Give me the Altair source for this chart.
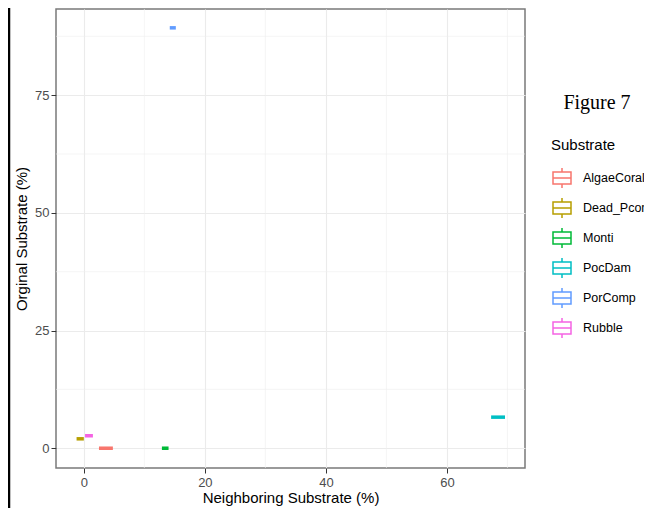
import altair as alt
import pandas as pd

substrates = ["AlgaeCoral", "Dead_Pcomp", "Monti", "PocDam", "PorComp", "Rubble"]
neighbor_lo = [2.5, -1.2, 12.9, 67.3, 14.2, 0.2]
neighbor_hi = [4.8, 0.0, 14.0, 69.6, 15.2, 1.5]
original = [0.0, 2.0, 0.0, 6.6, 89.3, 2.65]
colors = ["#F8766D", "#B79F00", "#00BA38", "#00BFC4", "#619CFF", "#F564E3"]

x_major = [0, 20, 40, 60]
x_minor = [10, 30, 50, 70]
y_major = [0, 25, 50, 75]
y_minor = [12.5, 37.5, 62.5, 87.5]

df = pd.DataFrame({"Substrate": substrates, "lo": neighbor_lo, "hi": neighbor_hi, "y": original})

xs = alt.Scale(domain=[-4.6, 72.9], nice=False, zero=False)
ys = alt.Scale(domain=[-4.2, 93.3], nice=False, zero=False)

FONT = "Liberation Sans"

xaxis = alt.Axis(values=x_major, grid=True, gridColor="#EBEBEB", gridWidth=1.1, domain=False,
                 tickColor="#333333", tickSize=5, labelColor="#4D4D4D", labelFontSize=13,
                 labelPadding=3, labelFont=FONT, title="Neighboring Substrate (%)",
                 titleFont=FONT, titleFontSize=15, titleFontWeight="normal", titleColor="black",
                 titlePadding=1)
yaxis = alt.Axis(values=y_major, grid=True, gridColor="#EBEBEB", gridWidth=1.1, domain=False,
                 tickColor="#333333", tickSize=5, labelColor="#4D4D4D", labelFontSize=13,
                 labelPadding=2, labelFont=FONT, title="Orginal Substrate (%)",
                 titleFont=FONT, titleFontSize=15, titleFontWeight="normal", titleColor="black",
                 titlePadding=5)

minor_x = alt.Chart(pd.DataFrame({"v": x_minor})).mark_rule(color="#EFEFEF", strokeWidth=0.6).encode(
    x=alt.X("v:Q", scale=xs, axis=xaxis))
minor_y = alt.Chart(pd.DataFrame({"v": y_minor})).mark_rule(color="#EFEFEF", strokeWidth=0.6).encode(
    y=alt.Y("v:Q", scale=ys, axis=yaxis))

box_symbol = "M-0.9,-0.6H0.9V0.6H-0.9Z M-0.9,0H0.9 M0,-0.6V-1 M0,0.6V1"

boxes = alt.Chart(df).mark_rule(strokeWidth=3.5, strokeCap="butt").encode(
    x=alt.X("lo:Q", scale=xs, axis=xaxis),
    x2="hi:Q",
    y=alt.Y("y:Q", scale=ys, axis=yaxis),
    color=alt.Color("Substrate:N", scale=alt.Scale(domain=substrates, range=colors),
                    legend=alt.Legend(orient="none", legendX=495, legendY=129, title="Substrate",
                                      titleFont=FONT, titleFontSize=15, titleFontWeight="normal",
                                      titleColor="black", titlePadding=14, labelFont=FONT,
                                      labelFontSize=12.5, labelColor="black", labelOffset=10,
                                      symbolType=box_symbol, symbolSize=400, symbolStrokeWidth=1.5,
                                      symbolFillColor="transparent", rowPadding=4, padding=0)),
)

fig_text = alt.Chart(pd.DataFrame({"t": ["Figure 7"]})).mark_text(
    font="Liberation Serif", fontSize=20, align="center", baseline="middle", color="black"
).encode(x=alt.value(541), y=alt.value(94), text="t:N")

edge = alt.Chart(pd.DataFrame({"a": [0]})).mark_rule(color="black", strokeWidth=2.5).encode(
    x=alt.value(-47), y=alt.value(-10), y2=alt.value(510))

chart = alt.layer(minor_x, minor_y, boxes, fig_text, edge).properties(
    width=469, height=459,
    autosize=alt.AutoSizeParams(type="none"),
    padding={"left": 48, "top": 1, "right": 119, "bottom": 40},
    background="white",
).configure_view(stroke="#7A7A7A", strokeWidth=1.5)

chart.save("out.html", embed_options={"renderer": "svg", "actions": False})
